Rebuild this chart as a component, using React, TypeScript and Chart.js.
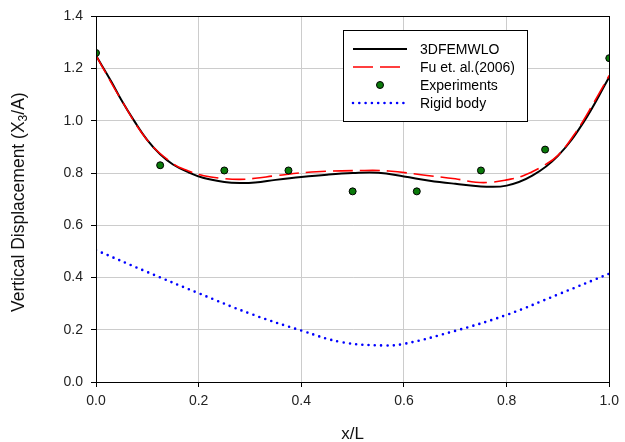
import React, { useEffect, useRef } from "react";
import { Chart, registerables } from "chart.js";

Chart.register(...registerables);

const femX = [0, 0.03, 0.05, 0.075, 0.1, 0.125, 0.15, 0.18, 0.21, 0.25, 0.28, 0.31, 0.35, 0.4, 0.45, 0.5, 0.55, 0.6, 0.65, 0.7, 0.75, 0.8, 0.85, 0.9, 0.95, 1.0];
const femY = [1.25, 1.15, 1.078, 0.998, 0.926, 0.872, 0.833, 0.803, 0.781, 0.766, 0.762, 0.764, 0.774, 0.785, 0.794, 0.8, 0.801, 0.787, 0.771, 0.759, 0.749, 0.752, 0.79, 0.866, 0.995, 1.168];

const fuX = [0, 0.05, 0.1, 0.15, 0.18, 0.21, 0.25, 0.28, 0.31, 0.35, 0.42, 0.52, 0.57, 0.645, 0.7, 0.74, 0.77, 0.8, 0.83, 0.87, 0.9, 0.935, 0.97, 1.0];
const fuY = [1.25, 1.078, 0.926, 0.836, 0.808, 0.79, 0.779, 0.776, 0.78, 0.79, 0.804, 0.81, 0.808, 0.791, 0.778, 0.765, 0.765, 0.774, 0.788, 0.826, 0.868, 0.957, 1.07, 1.174];

const expX = [0, 0.125, 0.25, 0.375, 0.5, 0.625, 0.75, 0.875, 1.0];
const expY = [1.26, 0.83, 0.81, 0.81, 0.73, 0.73, 0.81, 0.89, 1.24];

const rigidX = [0, 0.1, 0.2, 0.3, 0.4, 0.48, 0.56, 0.6, 0.7, 0.8, 0.9, 1.0];
const rigidY = [0.505, 0.421, 0.34, 0.262, 0.197, 0.152, 0.14, 0.146, 0.196, 0.257, 0.335, 0.415];

const seriesLabels = ["3DFEMWLO", "Fu et. al.(2006)", "Experiments", "Rigid body"];
const xTitle = "x/L";
const yTitleParts = ["Vertical Displacement (X", "3", "/A)"];

const FONT = "'Liberation Sans', Arial, Helvetica, sans-serif";

const pts = (xs: number[], ys: number[]) => xs.map((x, i) => ({ x, y: ys[i] }));

const framePlugin = {
  id: "frameAndText",
  afterDraw(chart: any) {
    const { ctx, chartArea } = chart;
    const { left, top, right, bottom } = chartArea;
    ctx.save();
    ctx.strokeStyle = "#000";
    ctx.lineWidth = 1;
    ctx.strokeRect(Math.round(left) + 0.5, Math.round(top) + 0.5, Math.round(right - left), Math.round(bottom - top));

    // Legend
    const lx = 343.5, ly = 30.5, lw = 184, lh = 91;
    ctx.fillStyle = "#fff";
    ctx.fillRect(lx, ly, lw, lh);
    ctx.strokeStyle = "#000";
    ctx.lineWidth = 1;
    ctx.strokeRect(lx, ly, lw, lh);
    const rows = [49, 67, 85, 103];
    const ds = chart.data.datasets;
    ctx.font = "14px " + FONT;
    ctx.textBaseline = "middle";
    ctx.textAlign = "left";
    for (let i = 0; i < ds.length; i++) {
      const d = ds[i];
      const y = rows[i];
      if (d.showLine === false) {
        ctx.beginPath();
        ctx.arc(380, y, d.pointRadius, 0, Math.PI * 2);
        ctx.fillStyle = d.pointBackgroundColor;
        ctx.fill();
        ctx.strokeStyle = d.pointBorderColor;
        ctx.lineWidth = 1;
        ctx.stroke();
      } else {
        ctx.beginPath();
        ctx.setLineDash(d.borderDash || []);
        ctx.lineCap = d.borderCapStyle || "butt";
        ctx.strokeStyle = d.borderColor;
        ctx.lineWidth = d.borderWidth;
        ctx.moveTo(353, y);
        ctx.lineTo(407, y);
        ctx.stroke();
        ctx.setLineDash([]);
        ctx.lineCap = "butt";
      }
      ctx.fillStyle = "#000";
      ctx.fillText(d.label, 420, y + 1);
    }

    // Axis titles
    ctx.fillStyle = "#111";
    ctx.font = "17px " + FONT;
    ctx.textAlign = "center";
    ctx.textBaseline = "middle";
    ctx.fillText(xTitle, (left + right) / 2, 434);

    ctx.translate(18, (top + bottom) / 2 + 3);
    ctx.rotate(-Math.PI / 2);
    const big = "17.5px " + FONT;
    const small = "12px " + FONT;
    ctx.font = big;
    const w0 = ctx.measureText(yTitleParts[0]).width;
    const w2 = ctx.measureText(yTitleParts[2]).width;
    ctx.font = small;
    const w1 = ctx.measureText(yTitleParts[1]).width;
    const total = w0 + w1 + w2;
    let cx = -total / 2;
    ctx.textAlign = "left";
    ctx.textBaseline = "alphabetic";
    ctx.font = big;
    ctx.fillText(yTitleParts[0], cx, 6);
    cx += w0;
    ctx.font = small;
    ctx.fillText(yTitleParts[1], cx, 9);
    cx += w1;
    ctx.font = big;
    ctx.fillText(yTitleParts[2], cx, 6);
    ctx.restore();
  },
};

export default function App() {
  const ref = useRef<HTMLCanvasElement>(null);
  useEffect(() => {
    if (!ref.current) return;
    const chart = new Chart(ref.current, {
      type: "line",
      data: {
        datasets: [
          {
            label: seriesLabels[0],
            data: pts(femX, femY),
            borderColor: "#000000",
            borderWidth: 2,
            pointRadius: 0,
            tension: 0.4,
            fill: false,
            order: 3,
          },
          {
            label: seriesLabels[1],
            data: pts(fuX, fuY),
            borderColor: "#ff0000",
            borderWidth: 1.6,
            borderDash: [20, 7],
            pointRadius: 0,
            tension: 0.4,
            fill: false,
            order: 2,
          },
          {
            label: seriesLabels[2],
            data: pts(expX, expY),
            showLine: false,
            pointRadius: 3.5,
            pointBackgroundColor: "#0a7a0a",
            pointBorderColor: "#000000",
            pointBorderWidth: 1,
            order: 0,
          },
          {
            label: seriesLabels[3],
            data: pts(rigidX, rigidY),
            borderColor: "#0000ff",
            borderWidth: 2.6,
            borderDash: [0, 6.3],
            borderCapStyle: "round",
            pointRadius: 0,
            tension: 0.4,
            fill: false,
            order: 4,
          },
        ] as any,
      },
      options: {
        responsive: false,
        animation: false,
        events: [],
        layout: { padding: { left: 0, right: 10, top: 16, bottom: 0 } },
        plugins: { legend: { display: false }, tooltip: { enabled: false } },
        scales: {
          x: {
            type: "linear",
            min: 0,
            max: 1,
            afterFit: (s: any) => { s.height = 60; },
            ticks: {
              stepSize: 0.2,
              color: "#222",
              font: { family: FONT, size: 14 },
              padding: 6,
              callback: (v: any) => Number(v).toFixed(1),
            },
            grid: { color: "#cccccc", lineWidth: 1, tickLength: 5, tickColor: "#000" },
            border: { color: "#000", width: 1 },
          },
          y: {
            type: "linear",
            min: 0,
            max: 1.4,
            afterFit: (s: any) => { s.width = 96; },
            ticks: {
              stepSize: 0.2,
              color: "#222",
              font: { family: FONT, size: 14 },
              padding: 8,
              callback: (v: any) => Number(v).toFixed(1),
            },
            grid: { color: "#cccccc", lineWidth: 1, tickLength: 5, tickColor: "#000" },
            border: { color: "#000", width: 1 },
          },
        },
      },
      plugins: [framePlugin],
    });
    return () => chart.destroy();
  }, []);
  return (
    <div style={{ position: "absolute", left: 0, top: 0, width: 625, height: 442, background: "#fff" }}>
      <canvas ref={ref} width={625} height={442} style={{ display: "block" }} />
    </div>
  );
}
